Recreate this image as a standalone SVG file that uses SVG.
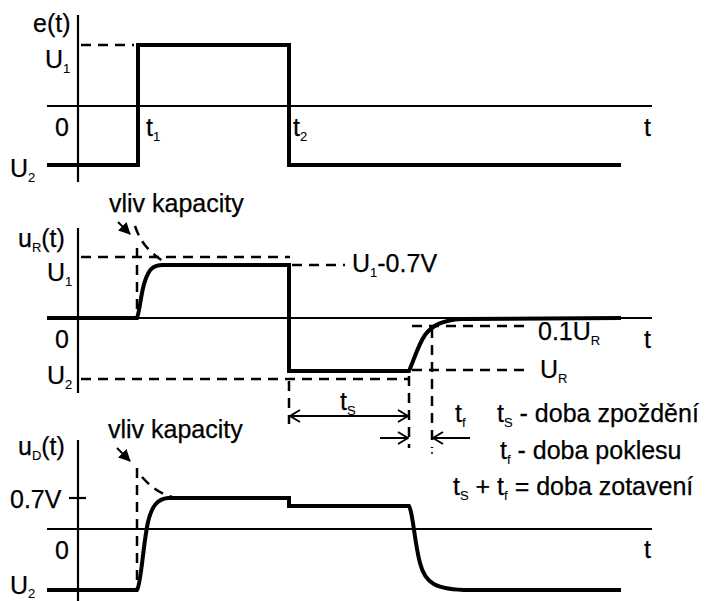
<svg xmlns="http://www.w3.org/2000/svg" width="713" height="601" viewBox="0 0 713 601">
<style>
text{font-family:"Liberation Sans",Arial,sans-serif;font-size:25px;fill:#000;stroke:#000;stroke-width:0.25}
.sub{font-size:13px;stroke-width:0.1}
.ax{stroke:#000;stroke-width:2.2;fill:none}
.sig{stroke:#000;stroke-width:4;fill:none;stroke-linejoin:miter}
.dash{stroke:#000;stroke-width:2.5;fill:none;stroke-dasharray:10 7}
.dim{stroke:#000;stroke-width:2;fill:none}
</style>
<defs>
<marker id="open" viewBox="0 0 12 14" refX="11" refY="7" markerWidth="12" markerHeight="14" markerUnits="userSpaceOnUse" orient="auto-start-reverse">
<path d="M1,1 L11,7 L1,13" fill="none" stroke="#000" stroke-width="2"/>
</marker>
<marker id="fill" viewBox="0 0 12 12" refX="11" refY="6" markerWidth="12" markerHeight="12" markerUnits="userSpaceOnUse" orient="auto">
<path d="M0,0 L12,6 L0,12 Z" fill="#000"/>
</marker>
</defs>
<rect width="713" height="601" fill="#fff"/>

<g id="panel-e">
<line class="ax" x1="78" y1="15" x2="78" y2="182"/>
<line class="ax" x1="47" y1="106" x2="652" y2="106"/>
<line class="dash" x1="81" y1="45" x2="134" y2="45"/>
<path class="sig" d="M47,165 H138 V45 H289 V165 H621"/>
<text x="33" y="32">e(t)</text>
<text x="45" y="68">U<tspan class="sub" dy="5">1</tspan></text>
<text x="55" y="136">0</text>
<text x="146" y="136">t<tspan class="sub" dy="5">1</tspan></text>
<text x="293" y="136">t<tspan class="sub" dy="5">2</tspan></text>
<text x="10" y="177">U<tspan class="sub" dy="5">2</tspan></text>
<text x="644" y="136">t</text>
</g>

<g id="panel-uR">
<line class="ax" x1="78" y1="228" x2="78" y2="393"/>
<line class="ax" x1="47" y1="318" x2="652" y2="318"/>
<line class="dash" x1="81" y1="257" x2="290" y2="257"/>
<line class="dash" x1="292" y1="265" x2="345" y2="265"/>
<line class="dash" x1="81" y1="379" x2="410" y2="379"/>
<line class="dash" x1="412" y1="326" x2="530" y2="326"/>
<line class="dash" x1="412" y1="370" x2="530" y2="370"/>
<line class="dash" x1="137" y1="248" x2="137" y2="318"/>
<path class="dash" d="M135,226 C139,238 146,251 166,263" stroke-dasharray="16 10"/>
<line class="dash" x1="289" y1="381" x2="289" y2="424"/>
<line class="dash" x1="409" y1="376" x2="409" y2="448"/>
<line class="dash" x1="432" y1="328" x2="432" y2="448"/>
<path class="sig" d="M47,318 H137 C140,310 141,292 145,281 C149,269 153,265 163,265 H289 V371 H409 C414,360 418,345 425,335 C431,327 440,320 462,319 L621,318"/>
<text x="109" y="212">vliv kapacity</text>
<line class="dim" x1="118" y1="222" x2="130" y2="234" marker-end="url(#fill)" stroke-width="3"/>
<text x="18" y="247">u<tspan class="sub" dy="5">R</tspan><tspan dy="-5">(t)</tspan></text>
<text x="47" y="281">U<tspan class="sub" dy="5">1</tspan></text>
<text x="55" y="348">0</text>
<text x="47" y="384">U<tspan class="sub" dy="5">2</tspan></text>
<text x="352" y="272">U<tspan class="sub" dy="5">1</tspan><tspan dy="-5">-0.7V</tspan></text>
<text x="538" y="340">0.1U<tspan class="sub" dy="5">R</tspan></text>
<text x="540" y="378">U<tspan class="sub" dy="5">R</tspan></text>
<text x="644" y="348">t</text>
</g>

<g id="dimensions">
<line class="dim" x1="290" y1="416" x2="408" y2="416" marker-start="url(#open)" marker-end="url(#open)"/>
<line class="dim" x1="380" y1="438" x2="408" y2="438" marker-end="url(#open)"/>
<line class="dim" x1="470" y1="438" x2="433" y2="438" marker-end="url(#open)"/>
<circle cx="432" cy="453" r="1" fill="#000"/>
<text x="340" y="410">t<tspan class="sub" dy="5">S</tspan></text>
<text x="455" y="422">t<tspan class="sub" dy="5">f</tspan></text>
</g>

<g id="legend">
<text x="497" y="422">t<tspan class="sub" dy="5">S</tspan><tspan dy="-5"> - doba zpoždění</tspan></text>
<text x="500" y="459">t<tspan class="sub" dy="5">f</tspan><tspan dy="-5"> - doba poklesu</tspan></text>
<text x="453" y="495">t<tspan class="sub" dy="5">S</tspan><tspan dy="-5"> + t</tspan><tspan class="sub" dy="5">f</tspan><tspan dy="-5"> = doba zotavení</tspan></text>
</g>

<g id="panel-uD">
<line class="ax" x1="78" y1="440" x2="78" y2="601"/>
<line class="ax" x1="47" y1="529" x2="652" y2="529"/>
<line class="ax" x1="69" y1="498" x2="86" y2="498"/>
<line class="dash" x1="137" y1="468" x2="137" y2="590"/>
<path class="dash" d="M142,477 C150,486 160,494 172,497" stroke-dasharray="13 9"/>
<path class="sig" d="M47,590 H137 C141,585 143,545 148,522 C152,505 158,499 168,498 H289 V506 H409 C413,512 414,540 420,563 C425,583 435,590 470,590 H621"/>
<text x="108" y="438">vliv kapacity</text>
<line class="dim" x1="117" y1="448" x2="130" y2="461" marker-end="url(#fill)" stroke-width="3"/>
<text x="18" y="455">u<tspan class="sub" dy="5">D</tspan><tspan dy="-5">(t)</tspan></text>
<text x="10" y="508">0.7V</text>
<text x="55" y="559">0</text>
<text x="10" y="594">U<tspan class="sub" dy="4">2</tspan></text>
<text x="644" y="558">t</text>
</g>
</svg>
